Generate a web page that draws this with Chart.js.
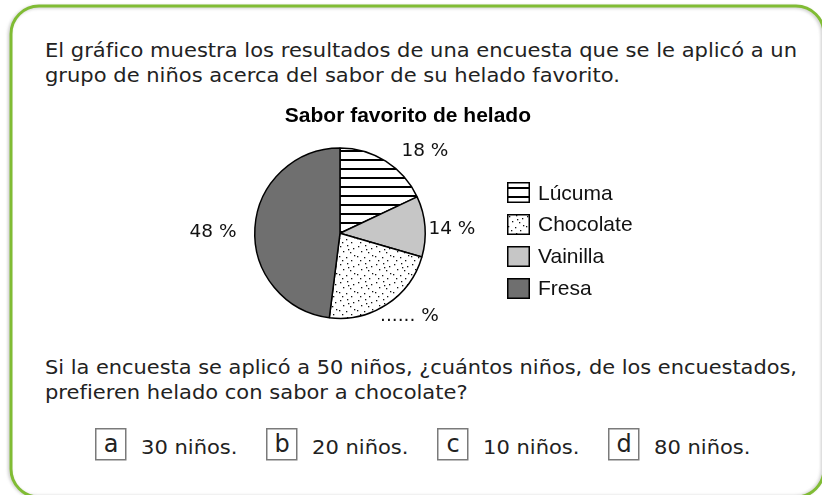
<!DOCTYPE html>
<html lang="es">
<head>
<meta charset="utf-8">
<title>Sabor favorito de helado</title>
<script src="https://cdn.jsdelivr.net/npm/chart.js@4.4.1/dist/chart.umd.min.js"></script>
<style>
  html, body { margin: 0; padding: 0; background: #fff; }
  body { width: 822px; height: 495px; position: relative; overflow: hidden; }
  #page { position: absolute; left: 0; top: 0; }
  #page text { font-family: 'DejaVu Sans', sans-serif; font-size: 19.5px; fill: #222; }
  #page text.letter { font-size: 24px; text-anchor: middle; }
  #chartBox { position: absolute; left: 140px; top: 100px; width: 400px; height: 230px; }
  .legend-row { position: absolute; left: 507px; height: 21px; display: flex; align-items: center;
    font-family: 'Liberation Sans', Arial, sans-serif; font-size: 21px; color: #111; white-space: nowrap; }
  .legend-row canvas { width: 23px; height: 21px; margin-right: 8px; display: block; }
</style>
</head>
<body>
<svg id="page" width="822" height="495">
  <defs>
    <filter id="blur" x="-5%" y="-5%" width="110%" height="110%"><feGaussianBlur stdDeviation="1.6"/></filter>
  </defs>
  <!-- card outline, only the corners and left/top edges are visible -->
  <rect x="9.5" y="7" width="813" height="490" rx="28" fill="none" stroke="#c9c9c9" stroke-width="3" filter="url(#blur)"/>
  <rect x="11" y="6" width="813" height="491" rx="28" fill="none" stroke="#80bc34" stroke-width="3"/>

  <text class="body" x="45" y="57" data-w="752">El gráfico muestra los resultados de una encuesta que se le aplicó a un</text>
  <text class="body" x="45" y="82">grupo de niños acerca del sabor de su helado favorito.</text>
  <text class="body" x="45" y="374" data-w="752">Si la encuesta se aplicó a 50 niños, ¿cuántos niños, de los encuestados,</text>
  <text class="body" x="45" y="399">prefieren helado con sabor a chocolate?</text>
  <g id="answers"></g>
</svg>

<div id="chartBox"><canvas id="pieChart"></canvas></div>
<div id="legend"></div>

<script>
'use strict';
// pie data, clockwise from 12 o'clock (slice sizes as drawn in the picture)
var flavors = ['Lúcuma', 'Vainilla', 'Chocolate', 'Fresa'];
var shares = [18, 11.5, 22.5, 48];
var shareLabels = ['18 %', '14 %', '...... %', '48 %'];
var legendOrder = ['Lúcuma', 'Chocolate', 'Vainilla', 'Fresa'];
// answer options
var optionLetters = ['a', 'b', 'c', 'd'];
var optionTexts = ['30 niños.', '20 niños.', '10 niños.', '80 niños.'];

// where each percent label sits: angle clockwise from top (deg), distance from centre (px)
var labelSpots = [
  { angle: 46, dist: 118 },
  { angle: 88, dist: 112 },
  { angle: 140, dist: 108 },
  { angle: 270.5, dist: 127 }
];

//Patterns
function makeStripes() {
  let c = document.createElement('canvas');
  c.width = 9; c.height = 9;
  let g = c.getContext('2d');
  g.fillStyle = '#fff';
  g.fillRect(0, 0, 9, 9);
  g.fillStyle = '#000';
  g.fillRect(0, 5, 9, 2);
  return g.createPattern(c, 'repeat');
}
function makeDots() {
  let c = document.createElement('canvas');
  c.width = 18; c.height = 18;
  let g = c.getContext('2d');
  g.fillStyle = '#fff';
  g.fillRect(0, 0, 18, 18);
  g.fillStyle = '#111';
  let spots = [[2, 2], [9, 1], [15, 4], [5, 7], [12, 8], [1, 12], [8, 13], [16, 11], [13, 16], [4, 16], [10, 5]];
  spots.forEach(function (s) { g.fillRect(s[0], s[1], 1.3, 1.3); });
  return g.createPattern(c, 'repeat');
}
var fills = {
  'Lúcuma': makeStripes(),
  'Vainilla': '#c6c6c6',
  'Chocolate': makeDots(),
  'Fresa': '#6f6f6f'
};

// fit the body text to the widths in the picture
var bodyLines = document.querySelectorAll('#page text.body');
var ratio = 752 / bodyLines[0].getComputedTextLength();
function fitText(t) {
  let w = t.dataset.w ? +t.dataset.w : t.getComputedTextLength() * ratio;
  t.setAttribute('textLength', w);
  t.setAttribute('lengthAdjust', 'spacingAndGlyphs');
}

// answer boxes
var svgNS = 'http://www.w3.org/2000/svg';
var answers = document.getElementById('answers');
var firstBoxX = 95, boxStep = 171;
for (let i = 0; i < optionLetters.length; i++) {
  let bx = firstBoxX + i * boxStep;
  let rect = document.createElementNS(svgNS, 'rect');
  rect.setAttribute('x', bx + 0.75);
  rect.setAttribute('y', 428.75);
  rect.setAttribute('width', 30);
  rect.setAttribute('height', 31);
  rect.setAttribute('fill', 'none');
  rect.setAttribute('stroke', '#7a7a7a');
  rect.setAttribute('stroke-width', '1.5');
  answers.appendChild(rect);

  let letter = document.createElementNS(svgNS, 'text');
  letter.setAttribute('class', 'letter');
  letter.setAttribute('x', bx + 16);
  letter.setAttribute('y', 452);
  letter.textContent = optionLetters[i];
  answers.appendChild(letter);

  let txt = document.createElementNS(svgNS, 'text');
  txt.setAttribute('class', 'body');
  txt.setAttribute('x', bx + 46);
  txt.setAttribute('y', 454);
  txt.textContent = optionTexts[i];
  answers.appendChild(txt);
}
document.querySelectorAll('#page text.body').forEach(fitText);

// draws the percent labels around the pie
var pieLabels = {
  id: 'pieLabels',
  afterDatasetsDraw: function (chart) {
    let ctx = chart.ctx;
    let arcs = chart.getDatasetMeta(0).data;
    ctx.save();
    ctx.font = '18.5px "DejaVu Sans", sans-serif';
    ctx.fillStyle = '#111';
    ctx.textAlign = 'center';
    ctx.textBaseline = 'middle';
    arcs.forEach(function (arc, i) {
      let spot = labelSpots[i];
      let a = spot.angle * Math.PI / 180;
      ctx.fillText(shareLabels[i], arc.x + Math.sin(a) * spot.dist, arc.y - Math.cos(a) * spot.dist);
    });
    ctx.restore();
  }
};

var ctx = document.getElementById('pieChart').getContext('2d');
// the chart area runs 149..531 so the pie sits at x=340 and the
// right-aligned title ends where the picture's title ends
// eslint-disable-next-line no-undef
new Chart(ctx, {
  type: 'pie',
  data: {
    labels: flavors,
    datasets: [{
      data: shares,
      backgroundColor: flavors.map(function (f) { return fills[f]; }),
      borderColor: '#000',
      borderWidth: 1.5
    }]
  },
  options: {
    responsive: true,
    maintainAspectRatio: false,
    animation: false,
    events: [],
    layout: { padding: { left: 9, right: 9, top: 0, bottom: 10.8 } },
    plugins: {
      legend: { display: false },
      tooltip: { enabled: false },
      title: {
        display: true,
        text: 'Sabor favorito de helado',
        align: 'end',
        color: '#000',
        font: { family: "'Liberation Sans', Arial, sans-serif", size: 21, weight: 'bold' },
        padding: { top: 4, bottom: 18 }
      }
    }
  },
  plugins: [pieLabels]
});

// legend, in the picture's order
var legend = document.getElementById('legend');
var rowTops = [182, 213.5, 245.5, 277.5];
legendOrder.forEach(function (name, i) {
  let row = document.createElement('div');
  row.className = 'legend-row';
  row.style.top = rowTops[i] + 'px';
  let sw = document.createElement('canvas');
  sw.width = 23; sw.height = 21;
  let g = sw.getContext('2d');
  g.fillStyle = fills[name];
  g.fillRect(0, 0, 23, 21);
  g.strokeStyle = '#000';
  g.lineWidth = 1.5;
  g.strokeRect(0.75, 0.75, 21.5, 19.5);
  row.appendChild(sw);
  row.appendChild(document.createTextNode(name));
  legend.appendChild(row);
});
</script>
</body>
</html>
